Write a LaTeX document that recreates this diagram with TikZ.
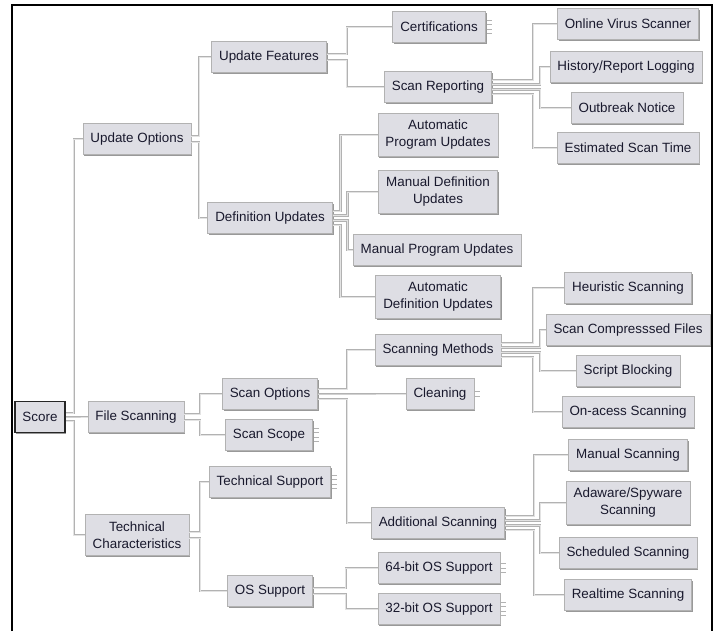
\documentclass[tikz,border=0pt]{standalone}
\usepackage{fontspec}
\setmainfont{Liberation Sans}
\usepackage{tikz}
\usetikzlibrary{shadows}
\definecolor{boxfill}{RGB}{222,222,228}
\definecolor{inktext}{RGB}{25,25,45}

\begin{document}
\begin{tikzpicture}[x=1pt, y=-1pt,
  box/.style={rectangle, draw=gray!60, line width=0.6pt, fill=boxfill,
    text=inktext, font=\fontsize{13.4}{17}\selectfont, align=center,
    inner xsep=7.5pt, inner ysep=7pt, minimum height=31pt,
    drop shadow={shadow xshift=1.3pt, shadow yshift=-1.3pt, fill=gray!80, opacity=1}},
  root/.style={box, draw=black!85, line width=1.6pt},
  link/.style={draw=gray!60, double=gray!22, double distance=0.9pt, line width=0.65pt},
  elbow/.style={link, to path={-- ++(#1,0) |- (\tikztotarget)}},
  stub/.style={draw=gray!60, line width=1pt}]
  \useasboundingbox (0,0) rectangle (719,631);
  \draw[line width=2.2pt] (12,631) -- (12,5) -- (712,5) -- (712,631);

  % first levels
  \node[root] (score) at (40,417) {Score};
  \node[box] (fs)  at (136,417) {File Scanning};
  \node[box] (uo)  at (137,139) {Update Options};
  \node[box] (tc)  at (137,535) {Technical\\Characteristics};
  \node[box] (uf)  at (269,57)  {Update Features};
  \node[box] (du)  at (270,218) {Definition Updates};
  \node[box] (so)  at (270,394) {Scan Options};
  \node[box] (ss)  at (269,435) {Scan Scope};
  \node[box] (ts)  at (270,482) {Technical Support};
  \node[box] (os)  at (270,591) {OS Support};

  % third level
  \node[box] (cert) at (439,27)  {Certifications};
  \node[box] (sr)   at (438,87)  {Scan Reporting};
  \node[box] (apu)  at (438,135) {Automatic\\Program Updates};
  \node[box] (mdu)  at (438,192) {Manual Definition\\Updates};
  \node[box] (mpu)  at (437,250) {Manual Program Updates};
  \node[box] (adu)  at (438,297) {Automatic\\Definition Updates};
  \node[box] (sm)   at (438,350) {Scanning Methods};
  \node[box] (cl)   at (440,394) {Cleaning};
  \node[box] (addl) at (438,523) {Additional Scanning};
  \node[box] (b64)  at (439,568) {64-bit OS Support};
  \node[box] (b32)  at (439,609) {32-bit OS Support};

  % leaves
  \node[box] (ovs) at (628,24)  {Online Virus Scanner};
  \node[box] (hrl) at (626,67)  {History/Report Logging};
  \node[box] (on)  at (627,108) {Outbreak Notice};
  \node[box] (est) at (628,148) {Estimated Scan Time};
  \node[box] (heu) at (628,288) {Heuristic Scanning};
  \node[box] (scf) at (628,330) {Scan Compresssed Files};
  \node[box] (sb)  at (628,371) {Script Blocking};
  \node[box] (oas) at (628,412) {On-acess Scanning};
  \node[box] (ms)  at (628,455) {Manual Scanning};
  \node[box] (asw) at (628,503) {Adaware/Spyware\\Scanning};
  \node[box] (sch) at (628,553) {Scheduled Scanning};
  \node[box] (rt)  at (628,595) {Realtime Scanning};

  \path ([yshift=4pt]score.east)  edge[elbow=8] (uo.west)
        (score.east)              edge[elbow=8] (fs.west)
        ([yshift=-4pt]score.east) edge[elbow=8] (tc.west);
  \path ([yshift=3pt]uo.east)  edge[elbow=8] (uf.west)
        ([yshift=-3pt]uo.east) edge[elbow=8] (du.west);
  \path ([yshift=3pt]fs.east)  edge[elbow=16] (so.west)
        ([yshift=-3pt]fs.east) edge[elbow=16] (ss.west);
  \path ([yshift=3pt]tc.east)  edge[elbow=11] (ts.west)
        ([yshift=-3pt]tc.east) edge[elbow=11] (os.west);
  \path ([yshift=3pt]uf.east)  edge[elbow=20] (cert.west)
        ([yshift=-3pt]uf.east) edge[elbow=20] (sr.west);
  \path ([yshift=7pt]du.east)    edge[elbow=8]  (apu.west)
        ([yshift=2.5pt]du.east)  edge[elbow=15] (mdu.west)
        ([yshift=-2.5pt]du.east) edge[elbow=15] (mpu.west)
        ([yshift=-7pt]du.east)   edge[elbow=8]  (adu.west);
  \path ([yshift=5pt]so.east)  edge[elbow=29] (sm.west)
        (so.east)              edge[elbow=29] (cl.west)
        ([yshift=-5pt]so.east) edge[elbow=29] (addl.west);
  \path ([yshift=3pt]os.east)  edge[elbow=33] (b64.west)
        ([yshift=-3pt]os.east) edge[elbow=33] (b32.west);
  \path ([yshift=7pt]sr.east)    edge[elbow=41] (ovs.west)
        ([yshift=2.5pt]sr.east)  edge[elbow=48] (hrl.west)
        ([yshift=-2.5pt]sr.east) edge[elbow=48] (on.west)
        ([yshift=-7pt]sr.east)   edge[elbow=41] (est.west);
  \path ([yshift=7pt]sm.east)    edge[elbow=32] (heu.west)
        ([yshift=2.5pt]sm.east)  edge[elbow=39] (scf.west)
        ([yshift=-2.5pt]sm.east) edge[elbow=39] (sb.west)
        ([yshift=-7pt]sm.east)   edge[elbow=32] (oas.west);
  \path ([yshift=7pt]addl.east)    edge[elbow=29] (ms.west)
        ([yshift=2.5pt]addl.east)  edge[elbow=35] (asw.west)
        ([yshift=-2.5pt]addl.east) edge[elbow=35] (sch.west)
        ([yshift=-7pt]addl.east)   edge[elbow=29] (rt.west);

  % collapsed branches
  \foreach \n/\k in {cert/4, cl/2, ss/4, ts/4, b64/3, b32/4}
    \foreach \i in {1,...,\k}
      \draw[stub] ([xshift=1pt, yshift={(\i-(\k+1)/2)*4.5pt}]\n.east) -- ++(5,0);
\end{tikzpicture}
\end{document}
